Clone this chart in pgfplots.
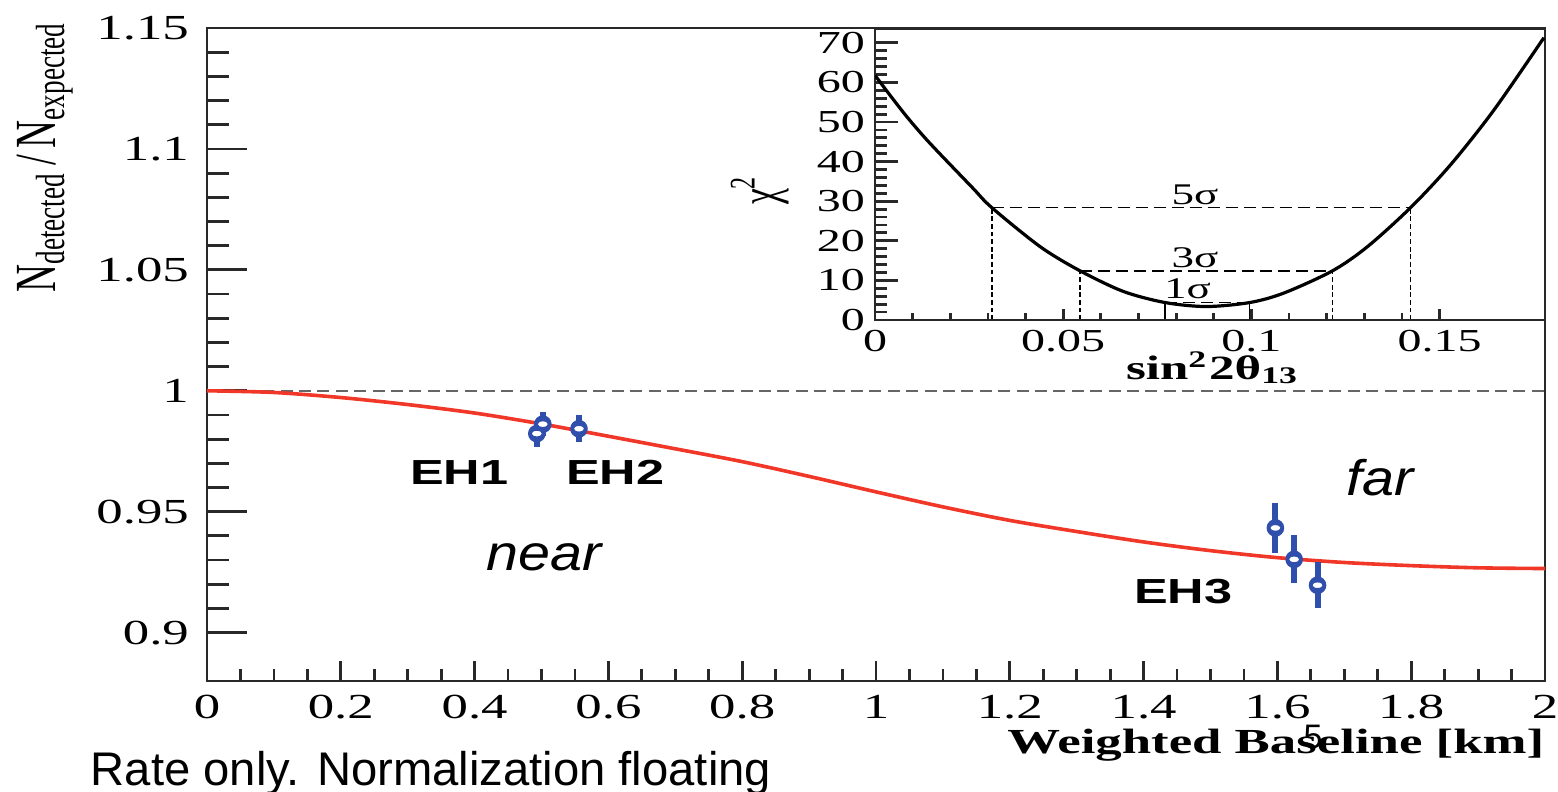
\documentclass[border=0pt]{standalone}
\usepackage{fontspec}
\setmainfont{Liberation Serif}
\newfontfamily\helv{Liberation Sans}
\usepackage{graphicx}
\usepackage{pgfplots}
\usepackage{pgfplotstable}
\pgfplotsset{compat=1.18}

\definecolor{ehblue}{RGB}{48,78,172}
\definecolor{fitred}{RGB}{240,55,40}
\definecolor{axgray}{RGB}{40,40,40}

% ROOT-like frame, ticks inside on left/bottom only
\pgfplotsset{
  rootframe/.style={
    scale only axis,
    axis line style={axgray, line width=0.7pt},
    tick style={axgray, line width=0.7pt},
    tick align=inside, tick pos=left,
    scaled ticks=false,
    /pgf/number format/assume math mode=true,
  },
}
\newcommand{\wide}[1]{\scalebox{1.5}[1]{#1}}

\pgfplotstableread{
L r
0.0 1.0000
0.1 0.9993
0.2 0.9972
0.3 0.9943
0.4 0.9908
0.5 0.9863
0.6 0.9812
0.7 0.9760
0.8 0.9707
0.9 0.9646
1.0 0.9582
1.1 0.9520
1.2 0.9464
1.3 0.9418
1.4 0.9375
1.5 0.9339
1.6 0.9310
1.7 0.9290
1.8 0.9277
1.9 0.9268
2.0 0.9265
}\fitcurve

\pgfplotstableread{
L r e
0.493 0.9823 0.0054
0.502 0.9862 0.0050
0.556 0.9843 0.0055
1.597 0.9433 0.0102
1.625 0.9303 0.0099
1.660 0.9196 0.0096
}\ehpoints

\pgfplotstableread{
s chi
0.0000 61.8
0.0042 56.5
0.0084 51.4
0.0128 46.5
0.0173 41.9
0.0261 33.2
0.0310 28.4
0.0439 18.5
0.0545 12.4
0.0660 7.2
0.0771 4.4
0.0880 3.4
0.0995 4.4
0.1086 6.8
0.1215 12.4
0.1308 18.5
0.1423 28.4
0.1529 39.2
0.1644 53.0
0.1777 71.3
}\chicurve

\begin{document}
\begin{tikzpicture}
\useasboundingbox (-51.75pt,-27.5pt) rectangle (337.75pt,170.25pt);
% ---- main panel (y ticks) ----
\begin{axis}[rootframe,
  at={(0,0)}, anchor=south west,
  width=334.5pt, height=163.25pt,
  xmin=0, xmax=2, ymin=0.88, ymax=1.15,
  xtick=\empty,
  ytick={0.9,0.95,1,1.05,1.1,1.15},
  yticklabels={\wide{0.9},\wide{0.95},\wide{1},\wide{1.05},\wide{1.1},\wide{1.15}},
  minor y tick num=4,
  major tick length=10pt, minor tick length=5.5pt,
  yticklabel style={font=\fontsize{8.8}{10}\selectfont, xshift=-1pt},
  clip=false,
]
\addplot[gray!80!black, line width=0.5pt, dash pattern=on 3pt off 1.6pt] coordinates {(0,1) (2,1)};
\addplot[fitred, line width=0.9pt, smooth] table[x=L, y=r] {\fitcurve};
\addplot[ehblue, only marks, mark=none,
  error bars/.cd, y dir=both, y explicit,
  error bar style={ehblue, line width=1.5pt}, error mark=none]
  table[x=L, y=r, y error=e] {\ehpoints};
\addplot[ehblue, only marks, mark=*, mark size=1.0pt,
  mark options={draw=ehblue, fill=white, line width=0.6pt, xscale=1.6}]
  table[x=L, y=r] {\ehpoints};
\node[font=\helv\bfseries\fontsize{8.7}{10}\selectfont] at (axis cs:0.377,0.9664) {\scalebox{1.45}[1]{EH1}};
\node[font=\helv\bfseries\fontsize{8.7}{10}\selectfont] at (axis cs:0.610,0.9664) {\scalebox{1.45}[1]{EH2}};
\node[font=\helv\bfseries\fontsize{8.7}{10}\selectfont] at (axis cs:1.459,0.9169) {\scalebox{1.45}[1]{EH3}};
\node[font=\helv\itshape\fontsize{12.5}{14}\selectfont, anchor=base] at (axis cs:0.504,0.9255) {\scalebox{1.15}[1]{near}};
\node[font=\helv\itshape\fontsize{12.5}{14}\selectfont, anchor=base] at (axis cs:1.753,0.9565) {\scalebox{1.15}[1]{far}};
\end{axis}
% ---- main panel (x ticks) ----
\begin{axis}[rootframe,
  at={(0,0)}, anchor=south west,
  width=334.5pt, height=163.25pt,
  xmin=0, xmax=2, ymin=0.88, ymax=1.15,
  hide y axis,
  xtick={0,0.2,0.4,0.6,0.8,1,1.2,1.4,1.6,1.8,2},
  xticklabels={\wide{0},\wide{0.2},\wide{0.4},\wide{0.6},\wide{0.8},\wide{1},\wide{1.2},\wide{1.4},\wide{1.6},\wide{1.8},\wide{2}},
  minor x tick num=3,
  major tick length=5pt, minor tick length=3pt,
  xticklabel style={font=\fontsize{8.8}{10}\selectfont},
]
\end{axis}
% ---- inset: chi2 (y ticks) ----
\begin{axis}[rootframe,
  at={(167pt,90.25pt)}, anchor=south west,
  width=167.5pt, height=72.75pt,
  xmin=0, xmax=0.178, ymin=0, ymax=73.5,
  xtick=\empty,
  ytick={0,10,20,30,40,50,60,70},
  yticklabels={\wide{0},\wide{10},\wide{20},\wide{30},\wide{40},\wide{50},\wide{60},\wide{70}},
  minor y tick num=4,
  major tick length=5.8pt, minor tick length=3pt,
  yticklabel style={font=\fontsize{8}{9}\selectfont, xshift=1pt},
]
\addplot[black, line width=0.4pt, dash pattern=on 3pt off 1.5pt] coordinates {(0.0310,28.4) (0.1423,28.4)};
\addplot[black, line width=0.4pt, dash pattern=on 3pt off 1.5pt] coordinates {(0.0545,12.4) (0.1215,12.4)};
\addplot[black, line width=0.4pt, dash pattern=on 3pt off 1.5pt] coordinates {(0.0771,4.4) (0.0995,4.4)};
\addplot[black, line width=0.4pt, dash pattern=on 1.2pt off 0.7pt] coordinates {(0.0310,0) (0.0310,28.4)};
\addplot[black, line width=0.4pt, dash pattern=on 1.2pt off 0.7pt] coordinates {(0.1423,0) (0.1423,28.4)};
\addplot[black, line width=0.4pt, dash pattern=on 1.2pt off 0.7pt] coordinates {(0.0545,0) (0.0545,12.4)};
\addplot[black, line width=0.4pt, dash pattern=on 1.2pt off 0.7pt] coordinates {(0.1215,0) (0.1215,12.4)};
\addplot[black, line width=0.4pt] coordinates {(0.0771,0) (0.0771,4.4)};
\addplot[black, line width=0.4pt] coordinates {(0.0995,0) (0.0995,4.4)};
\addplot[black, line width=0.8pt, smooth] table[x=s, y=chi] {\chicurve};
\node[font=\fontsize{7.5}{9}\selectfont] at (axis cs:0.085,31.6) {\wide{5σ}};
\node[font=\fontsize{7.5}{9}\selectfont] at (axis cs:0.085,15.8) {\wide{3σ}};
\node[font=\fontsize{7.5}{9}\selectfont] at (axis cs:0.083,8.0) {\wide{1σ}};
\end{axis}
% ---- inset: chi2 (x ticks) ----
\begin{axis}[rootframe,
  at={(167pt,90.25pt)}, anchor=south west,
  width=167.5pt, height=72.75pt,
  xmin=0, xmax=0.178, ymin=0, ymax=73.5,
  hide y axis,
  xtick={0,0.05,0.1,0.15},
  xticklabels={\wide{0},\wide{0.05},\wide{0.1},\wide{0.15}},
  minor x tick num=4,
  major tick length=2.8pt, minor tick length=1.8pt,
  xticklabel style={font=\fontsize{8}{9}\selectfont, yshift=1pt},
]
\end{axis}
% ---- titles and slide text ----
\node[rotate=90, font=\fontsize{9.7}{11}\selectfont] at (-40.5pt,131pt)
  {\scalebox{1}[1.5]{N\textsubscript{detected}\,/\,N\textsubscript{expected}}};
\node[anchor=east, inner sep=0pt, font=\bfseries\fontsize{8.8}{10}\selectfont] at (334.5pt,-16pt)
  {\wide{Weighted Baseline [km]}};
\node[rotate=90, font=\fontsize{9}{10}\selectfont] at (138.25pt,122.75pt)
  {\scalebox{1}[1.5]{χ\textsuperscript{2}}};
\node[font=\bfseries\fontsize{8.5}{10}\selectfont] at (251.5pt,78.25pt)
  {\wide{sin\textsuperscript{2}2θ\textsubscript{13}}};
\node[anchor=base west, inner sep=0pt, font=\helv\fontsize{11.8}{13}\selectfont] at (-29.25pt,-26pt)
  {Rate only. Normalization floating};
\node[anchor=base, inner sep=0pt, font=\helv\fontsize{8.5}{10}\selectfont] at (276.5pt,-16.75pt) {5};
\end{tikzpicture}
\end{document}
